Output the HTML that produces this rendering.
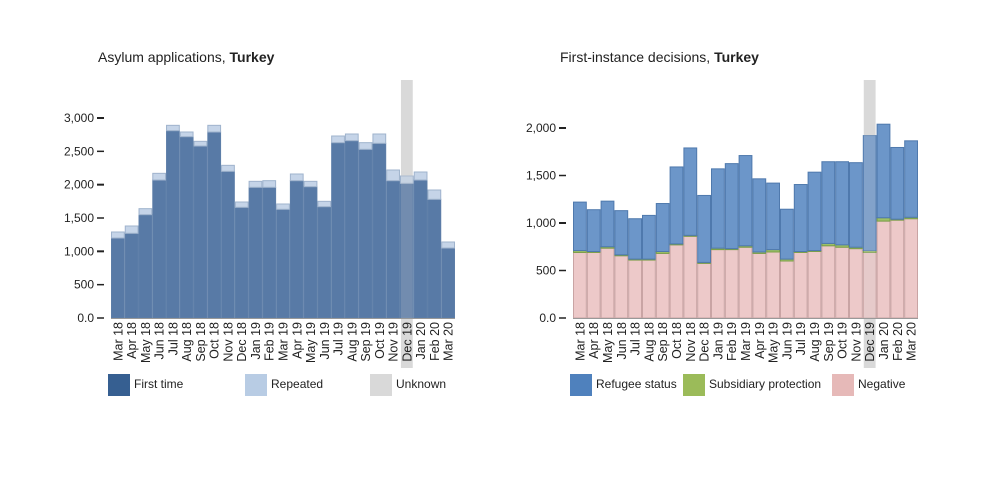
<!DOCTYPE html>
<html><head><meta charset="utf-8"><style>
body{margin:0;background:#fff;font-family:"Liberation Sans",sans-serif;}
svg text{font-family:"Liberation Sans",sans-serif;fill:#222;}
</style></head><body>
<svg id="c" width="984" height="474">
<text x="98" y="62" font-size="14">Asylum applications, <tspan font-weight="bold">Turkey</tspan></text>
<text x="560" y="62" font-size="14">First-instance decisions, <tspan font-weight="bold">Turkey</tspan></text>
<g id="L"></g>
<g id="R"></g>
</svg>
<script>
const months=["Mar 18","Apr 18","May 18","Jun 18","Jul 18","Aug 18","Sep 18","Oct 18","Nov 18","Dec 18","Jan 19","Feb 19","Mar 19","Apr 19","May 19","Jun 19","Jul 19","Aug 19","Sep 19","Oct 19","Nov 19","Dec 19","Jan 20","Feb 20","Mar 20"];
const firstTime=[1200,1270,1550,2070,2810,2720,2580,2790,2200,1660,1960,1960,1630,2060,1970,1670,2630,2660,2530,2620,2060,2020,2070,1780,1050];
const repeated=[90,110,90,100,80,70,70,100,90,80,90,100,80,100,80,80,100,100,100,140,160,110,120,140,90];
const negative=[690,690,735,655,610,610,680,770,860,575,720,720,745,680,695,600,690,700,760,745,730,690,1020,1030,1045];
const subsidiary=[20,10,15,10,10,10,20,10,10,10,15,10,15,15,25,20,10,10,25,25,15,20,35,10,15];
const refugee=[510,440,480,465,425,460,505,810,920,705,835,895,950,770,700,525,705,825,860,875,890,1210,985,755,805];
const leftTicks=[0,500,1000,1500,2000,2500,3000];
const rightTicks=[0,500,1000,1500,2000];
const NS="http://www.w3.org/2000/svg";
function mk(p,t,a){const e=document.createElementNS(NS,t);for(const k in a)e.setAttribute(k,a[k]);p.appendChild(e);return e;}
function chart(g,x0,x1,y0,scale,ticks,stacks,colors,strokes,legend,unknownIdx){
  const bw=(x1-x0)/months.length;
  const xs=i=>x0+i*bw;
  const ys=v=>y0-v*scale;
  const bg=mk(g,'rect',{x:xs(unknownIdx)+1,y:80,width:bw-2,height:288,fill:'#d9d9d9'});
  
  
  months.forEach((m,i)=>{
    let base=0;
    stacks.forEach((s,k)=>{
      const v=s[i];
      const r=mk(g,'rect',{x:xs(i)+0.5,y:ys(base+v),width:bw-1,height:v*scale,fill:colors[k],stroke:strokes[k],'stroke-width':1,'fill-opacity':0.92});
      
      
      base+=v;
    });
  });
  const band=mk(g,'rect',{x:xs(unknownIdx)+1,y:80,width:bw-2,height:288,fill:'#d9d9d9','fill-opacity':0.22});
  
  
  months.forEach((m,i)=>{
    const t=mk(g,'text',{transform:`translate(${xs(i)+bw/2+4.5},${y0+4}) rotate(-90)`,'text-anchor':'end','font-size':12.5});
    t.textContent=m;
    
    
  });
  const ax=mk(g,'line',{x1:x0,x2:x1,y1:y0+0.5,y2:y0+0.5,stroke:'#999'});
  
  
  ticks.forEach(v=>{
    const y=ys(v);
    const l=mk(g,'line',{x1:x0-14,x2:x0-7,y1:y,y2:y,stroke:'#222','stroke-width':v%1000===0&&v>0?2:1.5});
    
    
    const t=mk(g,'text',{x:x0-17,y:y+4,'text-anchor':'end','font-size':12});
    t.textContent=v===0?'0.0':v.toLocaleString('en-US');
    
    
  });
}
function legendItem(g,x,color,label){
  const r=mk(g,'rect',{x:x,y:374,width:22,height:22,fill:color});
  
  
  const t=mk(g,'text',{x:x+26,y:388,'font-size':12});
  t.textContent=label;
  
  
}
const L=document.getElementById('L'),R=document.getElementById('R');
chart(L,111,455,318,200/3000,leftTicks,[firstTime,repeated],['#4a6f9e','#c0d0e6'],['#5d7ea8','#9fb3cd'],['First time','Repeated'],21);
chart(R,573,918,318,190/2000,rightTicks,[negative,subsidiary,refugee],['#ebc4c4','#95bb5a','#5f8dc4'],['#c9a4a4','#7a9f48','#4f79ad'],['Negative','Subsidiary protection','Refugee status'],21);
legendItem(L,108,'#365f91','First time');
legendItem(L,245,'#b8cce4','Repeated');
legendItem(L,370,'#d9d9d9','Unknown');
legendItem(R,570,'#4f81bd','Refugee status');
legendItem(R,683,'#9bbb59','Subsidiary protection');
legendItem(R,832,'#e6b9b8','Negative');
</script>
</body></html>
